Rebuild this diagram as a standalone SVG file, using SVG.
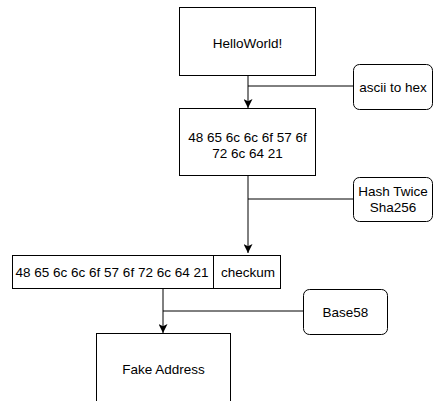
<svg xmlns="http://www.w3.org/2000/svg" width="435" height="401" viewBox="0 0 435 401">
<style>
.box{fill:#fff;stroke:#000;stroke-width:1}
.ln{fill:none;stroke:#000;stroke-width:1}
text{font-family:"Liberation Sans",Arial,sans-serif;font-size:13.5px;fill:#000;text-anchor:middle}
</style>
<defs>
<marker id="ah" viewBox="0 0 10 10" refX="10" refY="5" markerWidth="9" markerHeight="9" markerUnits="userSpaceOnUse" orient="auto">
<path d="M0,0 L10,5 L0,10 L2.5,5 Z" fill="#000"/>
</marker>
</defs>
<rect width="435" height="401" fill="#fff"/>
<g id="connectors">
<path class="ln" d="M248,75 V108" marker-end="url(#ah)"/>
<path class="ln" d="M353,86 H248"/>
<path class="ln" d="M248,175 V253" marker-end="url(#ah)"/>
<path class="ln" d="M353,199 H248"/>
<path class="ln" d="M163,289 V333" marker-end="url(#ah)"/>
<path class="ln" d="M303,311 H163"/>
</g>
<g id="helloworld">
<rect class="box" x="179.5" y="7.5" width="136" height="68"/>
<text x="247.5" y="48">HelloWorld!</text>
</g>
<g id="ascii">
<rect class="box" x="353.5" y="64.5" width="79" height="45" rx="6"/>
<text x="393" y="92">ascii to hex</text>
</g>
<g id="hex">
<rect class="box" x="179.5" y="108.5" width="136" height="67"/>
<text x="247.5" y="142">48 65 6c 6c 6f 57 6f</text>
<text x="247.5" y="158">72 6c 64 21</text>
</g>
<g id="hash">
<rect class="box" x="353.5" y="177.5" width="79" height="44" rx="6"/>
<text x="393" y="196">Hash Twice</text>
<text x="393" y="212">Sha256</text>
</g>
<g id="payload">
<rect class="box" x="12.5" y="255.5" width="268" height="33"/>
<line class="ln" x1="213.5" y1="255.5" x2="213.5" y2="288.5"/>
<text x="112" y="277">48 65 6c 6c 6f 57 6f 72 6c 64 21</text>
<text x="248" y="277">checkum</text>
</g>
<g id="base58">
<rect class="box" x="303.5" y="289.5" width="84" height="45" rx="6"/>
<text x="345.5" y="317">Base58</text>
</g>
<g id="fake">
<rect class="box" x="96.5" y="333.5" width="134" height="80"/>
<text x="163.5" y="374">Fake Address</text>
</g>
</svg>
